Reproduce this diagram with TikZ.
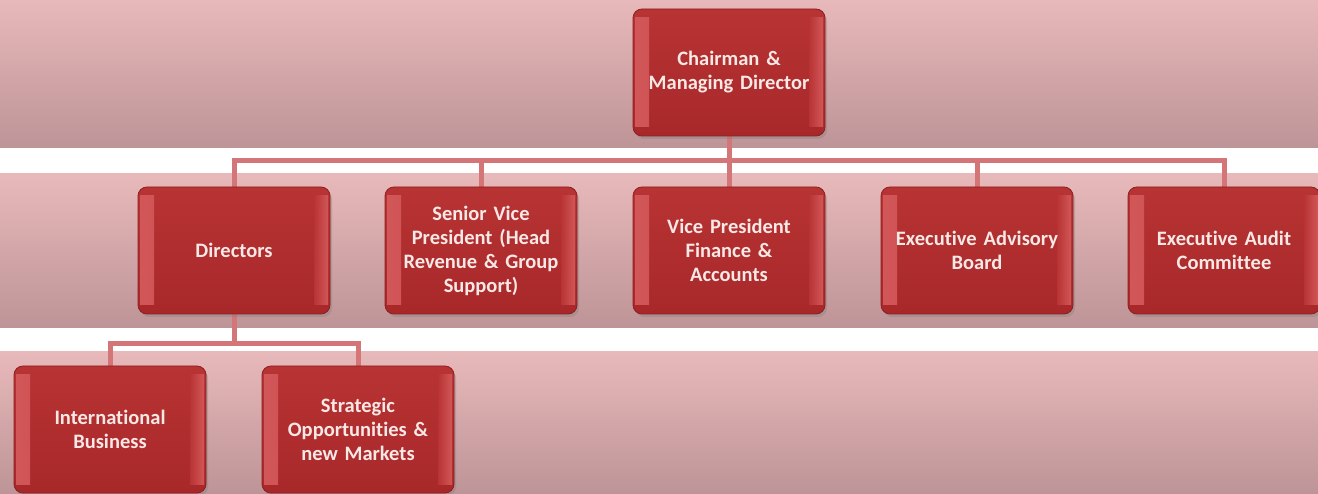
\documentclass[tikz,border=0pt]{standalone}
\usepackage{fontspec}
\setmainfont{Carlito}[WordSpace=0.7, Ligatures=NoCommon]
\usetikzlibrary{shadows}
\definecolor{bandtop}{HTML}{E8B9BA}
\definecolor{bandbot}{HTML}{BD9497}
\definecolor{boxtop}{HTML}{B83334}
\definecolor{boxbot}{HTML}{A82829}
\definecolor{boxedge}{HTML}{D25758}
\definecolor{boxline}{HTML}{8E1E20}
\definecolor{linkred}{HTML}{D47577}
\definecolor{boxtext}{HTML}{F8E8E6}
\pgfdeclarelayer{bands}
\pgfdeclarelayer{links}
\pgfsetlayers{bands,links,main}
\begin{document}
\begin{tikzpicture}[x=1pt, y=-1pt,
        band/.style={top color=bandtop, bottom color=bandbot, draw=none},
        post/.style={rectangle, rounded corners=9pt, minimum width=192pt, minimum height=127pt,
            text width=176pt, align=center, inner sep=0pt,
            top color=boxtop, bottom color=boxbot,
            draw=boxline, line width=0.8pt,
            drop shadow={opacity=0.35, shadow xshift=2pt, shadow yshift=-3pt},
            path picture={
                \fill[sharp corners, left color=boxedge, right color=boxtop]
                    ([xshift=2pt,yshift=9pt]path picture bounding box.south west) rectangle ++(14pt,109pt);
                \fill[sharp corners, left color=boxtop, right color=boxedge]
                    ([xshift=-2pt,yshift=9pt]path picture bounding box.south east) rectangle ++(-14pt,109pt);
            },
            text=boxtext, font=\fontsize{20.5}{24}\selectfont\bfseries},
        link/.style={draw=linkred, line width=5pt}]
        \useasboundingbox (0,0) rectangle (1318,494);

        % background bands
        \begin{pgfonlayer}{bands}
        \fill[white] (0,0) rectangle (1318,494);
        \fill[band] (0,0) rectangle (1318,148);
        \fill[band] (0,174) rectangle (1318,328);
        \fill[band] (0,352) rectangle (1318,494);
        \end{pgfonlayer}

        % boxes
        \node[post] (cmd) at (729,72.5) {Chairman \&\\Managing Director};

        \node[post] (dir) at (234,250.5) {Directors};
        \node[post] (svp) at (481,250.5) {Senior Vice\\President (Head\\Revenue \& Group\\Support)};
        \node[post] (vpf) at (729,250.5) {Vice President\\Finance \&\\Accounts};
        \node[post] (eab) at (977,250.5) {Executive Advisory\\Board};
        \node[post] (eac) at (1224,250.5) {Executive Audit\\Committee};

        \node[post] (intl) at (110,429.5) {International\\Business};
        \node[post] (strat) at (358,429.5) {Strategic\\Opportunities \&\\new Markets};

        % connectors
        \begin{pgfonlayer}{links}
        \foreach \n in {dir,svp,vpf,eab,eac}
            \draw[link] (cmd.south) -- ++(0,24) -| (\n.north);
        \foreach \n in {intl,strat}
            \draw[link] (dir.south) -- ++(0,29) -| (\n.north);
        \end{pgfonlayer}
    \end{tikzpicture}
\end{document}
